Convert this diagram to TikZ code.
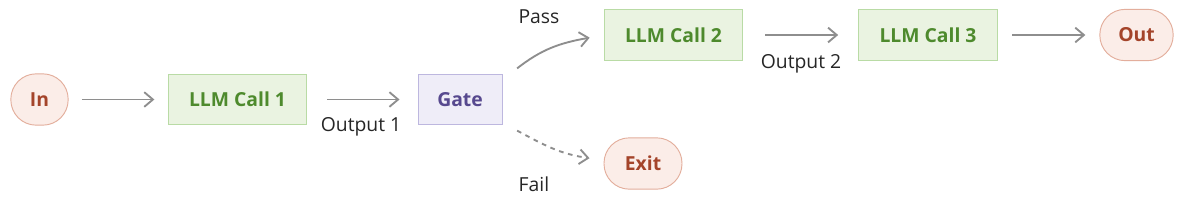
\documentclass[tikz,border=0pt]{standalone}
\usepackage{fontspec}
\setmainfont{Open Sans}
\usetikzlibrary{arrows.meta}

\definecolor{pillfill}{HTML}{FBEDE8}
\definecolor{pilldraw}{HTML}{E3AE9C}
\definecolor{pilltext}{HTML}{A4442A}
\definecolor{callfill}{HTML}{EAF3E1}
\definecolor{calldraw}{HTML}{B9DBA5}
\definecolor{calltext}{HTML}{4E8A2D}
\definecolor{gatefill}{HTML}{EFEDF8}
\definecolor{gatedraw}{HTML}{BDB7DF}
\definecolor{gatetext}{HTML}{57498F}
\definecolor{flowgray}{HTML}{8E8E8E}

\begin{document}
\begin{tikzpicture}[x=0.75pt,y=-0.75pt,
  every node/.style={font=\fontsize{14.5pt}{17pt}\selectfont},
  pill/.style={rectangle,rounded corners=19pt,draw=pilldraw,fill=pillfill,text=pilltext,
    line width=0.7pt,minimum height=38.5pt,
    font=\fontsize{14.5pt}{17pt}\selectfont\bfseries},
  call/.style={rectangle,draw=calldraw,fill=callfill,text=calltext,
    line width=0.7pt,minimum width=104pt,minimum height=38pt,
    font=\fontsize{14.5pt}{17pt}\selectfont\bfseries},
  flow/.style={draw=flowgray,line width=1.4pt,
    -{Straight Barb[length=6.5pt,width=11pt,line width=1.4pt]}},
  tag/.style={text=black!85,inner sep=0pt}]
  \useasboundingbox (0,0) rectangle (1186,201);

  \node[pill,minimum width=43pt] (in) at (39.5,99.5) {In};
  \node[call] (llm1) at (237.5,99.5) {LLM Call 1};
  \node[rectangle,draw=gatedraw,fill=gatefill,text=gatetext,line width=0.7pt,
    minimum width=63pt,minimum height=38pt,
    font=\fontsize{14.5pt}{17pt}\selectfont\bfseries] (gate) at (460,99.5) {Gate};
  \node[call] (llm2) at (673.5,35) {LLM Call 2};
  \node[call] (llm3) at (928,35) {LLM Call 3};
  \node[pill,minimum width=55pt] (out) at (1136.5,35) {Out};
  \node[pill,minimum width=58.5pt] (exit) at (643,163.5) {Exit};

  \draw[flow,shorten <=10pt,shorten >=10pt] (in) -- (llm1);
  \draw[flow,shorten <=15pt,shorten >=13.5pt] (llm1) -- (gate);
  \draw[flow,shorten <=16.5pt,shorten >=15pt] (llm2) -- (llm3);
  \draw[flow,shorten <=11pt,shorten >=10.5pt] (llm3) -- (out);
  \draw[flow] ([xshift=11pt,yshift=4pt]gate.north east)
    to[out=38,in=190] ([xshift=-10.5pt,yshift=-2pt]llm2.west);
  \draw[flow,dash pattern=on 3.5pt off 3.5pt]
    ([xshift=11pt,yshift=-4pt]gate.south east)
    to[out=-28,in=172] ([xshift=-10.5pt,yshift=4pt]exit.west);

  \node[tag] (out1) at (361,127) {Output 1};
  \node[tag] (out2) at (801,64) {Output 2};
  \node[tag] (pass) at (539,17) {Pass};
  \node[tag] (fail) at (534,184) {Fail};
\end{tikzpicture}
\end{document}
